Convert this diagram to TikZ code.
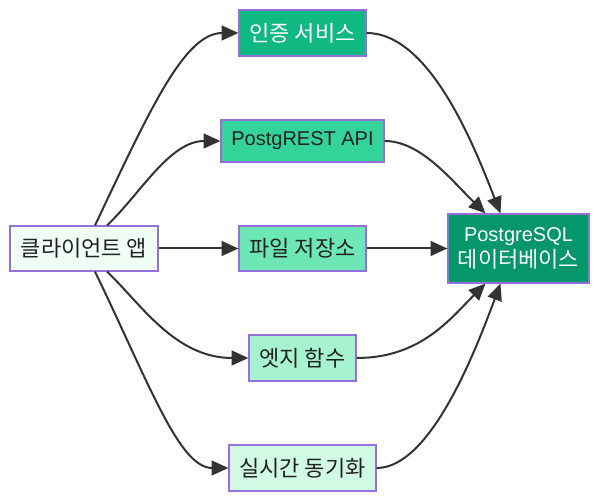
\documentclass[tikz,border=0pt]{standalone}
\usepackage{fontspec}
\setmainfont{Liberation Sans}
\newfontfamily\krf{Noto Sans CJK KR}
\newcommand{\kr}{\krf\fontsize{16.5pt}{20pt}\selectfont}
\usetikzlibrary{arrows.meta,calc}
\definecolor{bordc}{HTML}{9370DB}
\definecolor{linec}{HTML}{333333}
\definecolor{txtc}{HTML}{222222}
\definecolor{cclient}{HTML}{F0FDF4}
\definecolor{cauth}{HTML}{10B981}
\definecolor{crest}{HTML}{34D399}
\definecolor{cfile}{HTML}{6EE7B7}
\definecolor{cedge}{HTML}{A7F3D0}
\definecolor{creal}{HTML}{D1FAE5}
\definecolor{cpg}{HTML}{059669}
\tikzset{
  box/.style={draw=bordc, line width=0.9pt, inner sep=0pt, align=center, font=\fontsize{15pt}{19pt}\selectfont, text=txtc},
  conn/.style={draw=linec, line width=1.5pt, -{Triangle[length=12.5pt,width=11pt]}},
}
\begin{document}
\begin{tikzpicture}[x=0.75pt,y=-0.75pt]
\useasboundingbox (0,0) rectangle (600,502);
\node[box, fill=cclient, minimum width=148*0.75pt, minimum height=45*0.75pt] (client) at (84,248.5) {\kr 클라이언트 앱};
\node[box, fill=cauth, text=white, minimum width=127*0.75pt, minimum height=46*0.75pt] (auth) at (302.5,33) {\kr 인증 서비스};
\node[box, fill=crest, minimum width=163*0.75pt, minimum height=42*0.75pt] (rest) at (302.5,141) {PostgREST API};
\node[box, fill=cfile, minimum width=127*0.75pt, minimum height=45*0.75pt] (file) at (302.5,248.5) {\kr 파일 저장소};
\node[box, fill=cedge, minimum width=107*0.75pt, minimum height=46*0.75pt] (edge) at (302.5,358) {\kr 엣지 함수};
\node[box, fill=creal, minimum width=147*0.75pt, minimum height=46*0.75pt] (real) at (302.5,468) {\kr 실시간 동기화};
\node[box, fill=cpg, text=white, minimum width=141*0.75pt, minimum height=69*0.75pt, font=\fontsize{15pt}{20pt}\selectfont] (pg) at (518.5,248.5) {PostgreSQL\\{\kr 데이터베이스}};

\coordinate (cA) at ($(client.north)+(11,0)$);
\coordinate (cB) at ($(client.north)+(23,0)$);
\coordinate (cC) at ($(client.south)+(23,0)$);
\coordinate (cD) at ($(client.south)+(11,0)$);
\coordinate (pA) at ($(pg.north)+(-18,0)$);
\coordinate (pB) at ($(pg.north)+(-33,0)$);
\coordinate (pC) at ($(pg.south)+(-33,0)$);
\coordinate (pD) at ($(pg.south)+(-18,0)$);

\draw[conn] (cA) .. controls ($(cA)+(55,-116)$) and ($(auth.west)+(-54,0)$) .. (auth.west);
\draw[conn] (cB) .. controls ($(cB)+(33,-31)$) and ($(rest.west)+(-51,0)$) .. (rest.west);
\draw[conn] (client.east) -- (file.west);
\draw[conn] (cC) .. controls ($(cC)+(33,31)$) and ($(edge.west)+(-74,0)$) .. (edge.west);
\draw[conn] (cD) .. controls ($(cD)+(55,114)$) and ($(real.west)+(-49,0)$) .. (real.west);

\draw[conn] (auth.east) .. controls ($(auth.east)+(64,0)$) and ($(pA)+(-25,-64)$) .. (pA);
\draw[conn] (rest.east) .. controls ($(rest.east)+(36,0)$) and ($(pB)+(-35,-34)$) .. (pB);
\draw[conn] (file.east) -- (pg.west);
\draw[conn] (edge.east) .. controls ($(edge.east)+(64,0)$) and ($(pC)+(-35,35)$) .. (pC);
\draw[conn] (real.east) .. controls ($(real.east)+(54,0)$) and ($(pD)+(-25,67)$) .. (pD);
\end{tikzpicture}
\end{document}
